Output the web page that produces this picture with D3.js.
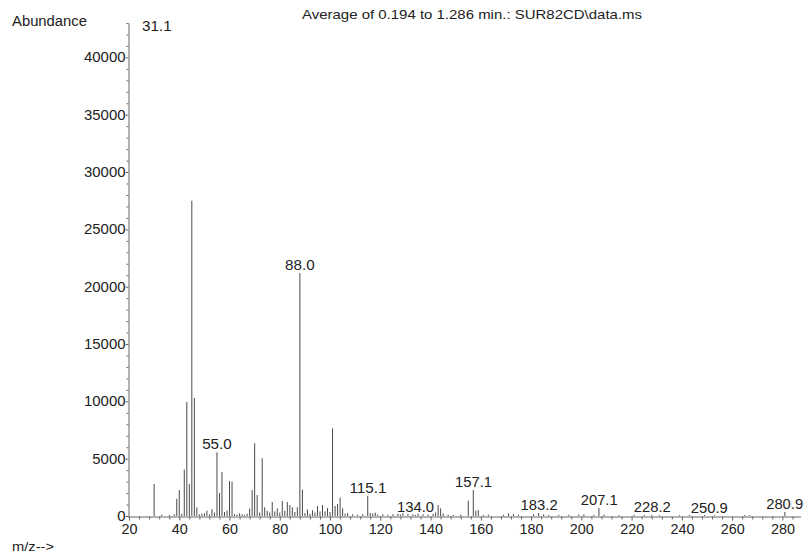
<!DOCTYPE html>
<html>
<head>
<meta charset="utf-8">
<script src="https://cdn.jsdelivr.net/npm/d3@7"></script>
<style>
  body { margin: 0; background: #fff; }
  text { font-family: "Liberation Sans", Arial, sans-serif; fill: #222; }
</style>
</head>
<body>
<svg id="chart" width="806" height="556"></svg>
<script>
// m/z and abundance of every line in the spectrum
const peakMz = [30, 33, 36, 38, 39, 40, 41, 42, 43, 44, 45, 46, 47, 48, 49, 50, 51, 52, 53, 54,
  55, 56, 57, 58, 59, 60, 61, 62, 63, 64, 65, 66, 67, 68, 69, 70, 71, 72, 73, 74,
  75, 76, 77, 78, 79, 80, 81, 82, 83, 84, 85, 86, 87, 88, 89, 90, 91, 92, 93, 94,
  95, 96, 97, 98, 99, 100, 101, 102, 103, 104, 105, 106, 107, 109, 111, 113, 115, 116, 117, 118,
  119, 121, 123, 125, 127, 128, 129, 131, 133, 134, 135, 137, 139, 141, 142, 143, 144, 145, 147, 149,
  152, 155, 157, 158, 159, 161, 163, 169, 171, 173, 175, 181, 183, 185, 187, 191, 195, 199, 201, 205,
  207, 209, 215, 221, 225, 228, 231, 239, 243, 249, 253, 265, 267, 281];
const peakAbund = [2790, 120, 80, 150, 1500, 2270, 200, 4050, 9950, 2800, 27500, 10300, 750, 150, 200, 250, 470, 150, 580, 300,
  5550, 2000, 3830, 350, 470, 3050, 3000, 150, 120, 230, 150, 100, 200, 640, 2270, 6350, 1830, 300, 5030, 760,
  450, 300, 1220, 400, 670, 300, 1310, 450, 1220, 960, 760, 350, 760, 21180, 2300, 250, 580, 200, 500, 300,
  870, 400, 960, 400, 700, 350, 7650, 870, 1050, 1600, 670, 200, 250, 150, 120, 150, 1750, 250, 230, 290,
  120, 150, 100, 150, 200, 120, 250, 180, 150, 90, 200, 150, 120, 180, 300, 960, 670, 230, 120, 100,
  120, 1340, 2270, 470, 520, 100, 120, 100, 230, 180, 100, 150, 260, 150, 100, 90, 100, 120, 150, 100,
  700, 120, 80, 100, 90, 90, 80, 70, 80, 80, 60, 80, 70, 350];

// labelled peaks
const labelMz = [31.1, 55.0, 88.0, 115.1, 134.0, 157.1, 183.2, 207.1, 228.2, 250.9, 280.9];
const labelAbund = [42000, 5550, 21180, 1750, 90, 2270, 260, 700, 90, 0, 350];

const yTicks = [0, 5000, 10000, 15000, 20000, 25000, 30000, 35000, 40000];
const xTicks = [20, 40, 60, 80, 100, 120, 140, 160, 180, 200, 220, 240, 260, 280];

const svg = d3.select("#chart");

const x = d3.scaleLinear().domain([20, 287.4]).range([129, 801]);
const y = d3.scaleLinear().domain([0, 43000]).range([516, 23]);

// squeeze/stretch a text to a set width
function fitText(sel, perChar) {
  sel.attr("textLength", function () { return this.textContent.length * perChar; })
    .attr("lengthAdjust", "spacingAndGlyphs");
}

// y axis: minor ticks every 1000, labelled every 5000
svg.append("g")
  .attr("transform", "translate(128.5,0)")
  .call(d3.axisLeft(y).tickValues(d3.range(0, 43001, 1000).filter(v => v % 5000 !== 0))
    .tickSize(2).tickSizeOuter(0).tickFormat(""))
  .call(g => g.select(".domain").remove());

const yAxis = svg.append("g")
  .attr("transform", "translate(128.5,0)")
  .call(d3.axisLeft(y).tickValues(yTicks).tickSize(3).tickSizeOuter(0).tickPadding(0)
    .tickFormat(d3.format("d")));
yAxis.selectAll("text").style("font-size", "14px").call(fitText, 8.3);

// x axis: minor ticks every 4
svg.append("g")
  .attr("transform", "translate(0,516.5)")
  .call(d3.axisBottom(x).tickValues(d3.range(24, 288, 4).filter(v => v % 20 !== 0))
    .tickSize(3).tickSizeOuter(0).tickFormat(""))
  .call(g => g.select(".domain").remove());

const xAxis = svg.append("g")
  .attr("transform", "translate(0,516.5)")
  .call(d3.axisBottom(x).tickValues(xTicks).tickSize(4).tickSizeOuter(0).tickPadding(4));
xAxis.selectAll("text").style("font-size", "14px").call(fitText, 8);

svg.selectAll(".domain, .tick line").attr("stroke", "#666");
xAxis.select(".domain").attr("d", `M128,0.5H${x.range()[1]}`);
svg.selectAll(".tick text").attr("fill", "#222");

// spectrum lines
svg.append("g")
  .selectAll("line")
  .data(d3.zip(peakMz, peakAbund))
  .join("line")
  .attr("x1", d => x(d[0]))
  .attr("x2", d => x(d[0]))
  .attr("y1", y(0))
  .attr("y2", d => y(d[1]))
  .attr("stroke", "#4a4a4a")
  .attr("stroke-width", 1);

// peak labels
svg.append("g")
  .selectAll("text")
  .data(d3.zip(labelMz, labelAbund))
  .join("text")
  .attr("x", d => x(d[0]))
  .attr("y", d => y(d[1]) - 3)
  .attr("text-anchor", "middle")
  .style("font-size", "14px")
  .text(d => d[0].toFixed(1))
  .call(fitText, 7.4);

// titles
svg.append("text")
  .attr("x", 302).attr("y", 18.5)
  .style("font-size", "13px")
  .attr("textLength", 340).attr("lengthAdjust", "spacingAndGlyphs")
  .text("Average of 0.194 to 1.286 min.: SUR82CD\\data.ms");

svg.append("text")
  .attr("x", 12).attr("y", 26)
  .style("font-size", "14px")
  .attr("textLength", 75).attr("lengthAdjust", "spacingAndGlyphs")
  .text("Abundance");

svg.append("text")
  .attr("x", 12).attr("y", 551)
  .style("font-size", "13px")
  .attr("textLength", 42).attr("lengthAdjust", "spacingAndGlyphs")
  .text("m/z-->");
</script>
</body>
</html>
